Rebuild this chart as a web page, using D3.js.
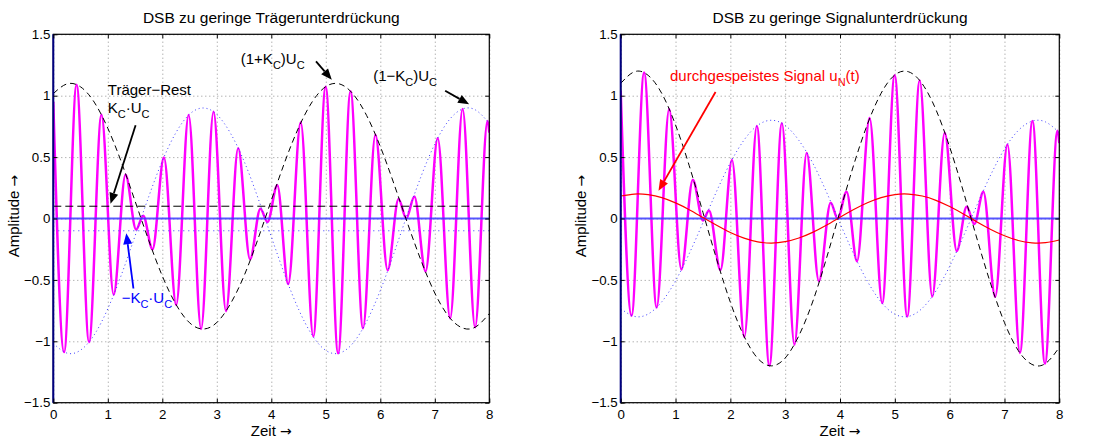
<!DOCTYPE html>
<html>
<head>
<meta charset="utf-8">
<script src="https://cdn.jsdelivr.net/npm/d3@7"></script>
<style>
    body { margin: 0; background: #fff; }
    svg { font-family: "Liberation Sans", Arial, sans-serif; }
</style>
</head>
<body>
<script>
// ticks
var xTicks = [0, 1, 2, 3, 4, 5, 6, 7, 8];
var xTickLabels = ['0', '1', '2', '3', '4', '5', '6', '7', '8'];
var yTicks = [-1.5, -1, -0.5, 0, 0.5, 1, 1.5];
var yTickLabels = ['\u22121.5', '\u22121', '\u22120.5', '0', '0.5', '1', '1.5'];

// time grid of the envelope curves
var tEnv = [0, 0.25, 0.5, 0.75, 1, 1.25, 1.5, 1.75, 2, 2.25, 2.5, 2.75, 3, 3.25, 3.5, 3.75, 4,
    4.25, 4.5, 4.75, 5, 5.25, 5.5, 5.75, 6, 6.25, 6.5, 6.75, 7, 7.25, 7.5, 7.75, 8];

// left: DSB with carrier residue
var leftUpper = [1.017, 1.096, 1.072, 0.948, 0.735, 0.458, 0.142, -0.177, -0.468, -0.699, -0.849,
    -0.900, -0.847, -0.695, -0.467, -0.174, 0.148, 0.463, 0.739, 0.950, 1.074, 1.096, 1.014, 0.838,
    0.586, 0.283, -0.039, -0.345, -0.607, -0.795, -0.890, -0.883, -0.774];
var leftLower = [-1.017, -1.096, -1.072, -0.948, -0.735, -0.458, -0.142, 0.177, 0.468, 0.699, 0.849,
    0.900, 0.847, 0.695, 0.467, 0.174, -0.148, -0.463, -0.739, -0.950, -1.074, -1.096, -1.014, -0.838,
    -0.586, -0.283, 0.039, 0.345, 0.607, 0.795, 0.890, 0.883, 0.774];
var leftSigT = [0, 0.198, 0.427, 0.656, 0.884, 1.107, 1.325, 1.52, 1.65, 1.82, 2.03, 2.255, 2.483,
    2.712, 2.94, 3.169, 3.392, 3.61, 3.80, 3.93, 4.11, 4.31, 4.54, 4.77, 4.997, 5.226, 5.454, 5.683,
    5.91, 6.135, 6.335, 6.476, 6.625, 6.83, 7.054, 7.282, 7.51, 7.739, 7.967, 8];
var leftSigV = [0.95, -1.088, 1.090, -1.006, 0.844, -0.62, 0.357, -0.090, 0.023, -0.251, 0.496,
    -0.704, 0.843, -0.899, 0.870, -0.755, 0.572, -0.332, 0.080, -0.029, 0.270, -0.534, 0.783, -0.961,
    1.073, -1.098, 1.037, -0.894, 0.682, -0.421, 0.158, 0.000, 0.180, -0.431, 0.654, -0.813, 0.892,
    -0.886, 0.794, 0.70];
var leftResidue = [0.1, -0.1];

// right: DSB with signal feed-through
var rightUpper = [1.100, 1.195, 1.166, 1.018, 0.762, 0.430, 0.050, -0.332, -0.682, -0.959, -1.139,
    -1.200, -1.136, -0.954, -0.680, -0.329, 0.058, 0.436, 0.767, 1.020, 1.169, 1.195, 1.097, 0.886,
    0.583, 0.220, -0.167, -0.534, -0.848, -1.074, -1.188, -1.180, -1.049];
var rightLower = [-0.734, -0.797, -0.778, -0.678, -0.508, -0.286, -0.034, 0.222, 0.454, 0.639, 0.759,
    0.800, 0.758, 0.636, 0.454, 0.219, -0.038, -0.290, -0.511, -0.680, -0.779, -0.797, -0.731, -0.590,
    -0.389, -0.146, 0.111, 0.356, 0.566, 0.716, 0.792, 0.786, 0.699];
var rightFeed = [0.183, 0.199, 0.194, 0.170, 0.127, 0.072, 0.008, -0.055, -0.114, -0.160, -0.190,
    -0.200, -0.189, -0.159, -0.113, -0.055, 0.010, 0.073, 0.128, 0.170, 0.195, 0.199, 0.183, 0.148,
    0.097, 0.037, -0.028, -0.089, -0.141, -0.179, -0.198, -0.197, -0.175];
var rightSigT = [0, 0.198, 0.427, 0.656, 0.884, 1.107, 1.315, 1.50, 1.61, 1.82, 2.03, 2.255, 2.483,
    2.712, 2.94, 3.169, 3.392, 3.615, 3.83, 3.958, 4.12, 4.31, 4.54, 4.77, 4.997, 5.226, 5.454, 5.683,
    5.91, 6.13, 6.31, 6.45, 6.615, 6.83, 7.054, 7.282, 7.51, 7.739, 7.967, 8];
var rightSigV = [1.04, -0.791, 1.188, -0.725, 0.892, -0.415, 0.316, -0.016, 0.065, -0.419, 0.476,
    -0.965, 0.754, -1.199, 0.776, -1.026, 0.534, -0.51, 0.128, -0.002, 0.218, -0.348, 0.819, -0.689,
    1.167, -0.798, 1.124, -0.636, 0.699, -0.265, 0.096, -0.045, 0.218, -0.637, 0.603, -1.095, 0.794,
    -1.183, 0.715, 0.614];

(function() {
    var W = 1096,
        H = 439,
        yTop = 34.3,
        yBot = 402.7;

    var svg = d3.select('body')
        .append('svg')
        .attr('width', W)
        .attr('height', H);

    var defs = svg.append('defs');

    // text with TeX-like subscripts: parts = [[text, isSub], ...]
    function richText(g, x, y, parts, color) {
        var t = g.append('text')
            .attr('x', x)
            .attr('y', y)
            .attr('fill', color || '#000')
            .attr('font-size', 15);
        var cur = 0;
        parts.forEach(function(p) {
            var target = p[1] ? 5 : 0;
            t.append('tspan')
                .attr('dy', target - cur)
                .attr('font-size', p[1] ? 11 : 15)
                .text(p[0]);
            cur = target;
        });
        return t;
    }

    // label followed by a wide arrow glyph
    function arrowLabel(sel, label) {
        sel.append('tspan').text(label + ' ');
        sel.append('tspan')
            .attr('font-family', '"DejaVu Sans", sans-serif')
            .attr('font-size', 14)
            .text('\u2192');
        return sel;
    }

    function arrow(g, x1, y1, x2, y2, color) {
        var a = Math.atan2(y2 - y1, x2 - x1),
            len = 11,
            half = 4.5;
        var bx = x2 - len * Math.cos(a),
            by = y2 - len * Math.sin(a);
        g.append('line')
            .attr('x1', x1).attr('y1', y1)
            .attr('x2', bx).attr('y2', by)
            .attr('stroke', color)
            .attr('stroke-width', 1.8);
        g.append('path')
            .attr('d', 'M' + x2 + ',' + y2 +
                'L' + (bx + half * Math.sin(a)) + ',' + (by - half * Math.cos(a)) +
                'L' + (bx - half * Math.sin(a)) + ',' + (by + half * Math.cos(a)) + 'Z')
            .attr('fill', color);
    }

    function panel(p) {
        var x = d3.scaleLinear().domain([0, 8]).range([p.x0, p.x1]);
        var y = d3.scaleLinear().domain([-1.5, 1.5]).range([yBot, yTop]);
        var w = p.x1 - p.x0,
            h = yBot - yTop;
        var g = svg.append('g');

        // grid
        var gx = g.append('g')
            .attr('transform', 'translate(0,' + yBot + ')')
            .call(d3.axisBottom(x).tickValues(xTicks).tickSize(-h).tickFormat(''));
        var gy = g.append('g')
            .attr('transform', 'translate(' + p.x0 + ',0)')
            .call(d3.axisLeft(y).tickValues(yTicks).tickSize(-w).tickFormat(''));
        [gx, gy].forEach(function(s) {
            s.select('.domain').remove();
            s.selectAll('line')
                .attr('stroke', '#777')
                .attr('stroke-width', 0.8)
                .attr('stroke-dasharray', '1,3');
        });

        var clipId = 'clip' + p.id;
        defs.append('clipPath').attr('id', clipId)
            .append('rect')
            .attr('x', p.x0).attr('y', yTop)
            .attr('width', w).attr('height', h);
        var plot = g.append('g').attr('clip-path', 'url(#' + clipId + ')');

        var env = d3.line()
            .x(function(d, i) { return x(tEnv[i]); })
            .y(function(d) { return y(d); })
            .curve(d3.curveNatural);
        var sig = d3.line()
            .x(function(d) { return x(d[0]); })
            .y(function(d) { return y(d[1]); })
            .curve(d3.curveMonotoneX);

        plot.append('path')
            .datum(d3.zip(p.sigT, p.sigV))
            .attr('d', sig)
            .attr('fill', 'none')
            .attr('stroke', '#ff00ff')
            .attr('stroke-width', 2.5);

        // zero line
        plot.append('line')
            .attr('x1', p.x0).attr('x2', p.x1)
            .attr('y1', y(0)).attr('y2', y(0))
            .attr('stroke', '#3a3aff')
            .attr('stroke-opacity', 0.85)
            .attr('stroke-width', 2);

        if (p.residue) {
            plot.append('line')
                .attr('x1', p.x0).attr('x2', p.x1)
                .attr('y1', y(p.residue[0])).attr('y2', y(p.residue[0]))
                .attr('stroke', '#000')
                .attr('stroke-width', 1)
                .attr('stroke-dasharray', '8,4');
            plot.append('line')
                .attr('x1', p.x0).attr('x2', p.x1)
                .attr('y1', y(p.residue[1])).attr('y2', y(p.residue[1]))
                .attr('stroke', '#3a3aff')
                .attr('stroke-width', 1)
                .attr('stroke-dasharray', '1,4');
        }
        if (p.feed) {
            plot.append('path')
                .datum(p.feed)
                .attr('d', env)
                .attr('fill', 'none')
                .attr('stroke', '#ff0000')
                .attr('stroke-width', 1.2);
        }
        plot.append('path')
            .datum(p.upper)
            .attr('d', env)
            .attr('fill', 'none')
            .attr('stroke', '#000')
            .attr('stroke-width', 1)
            .attr('stroke-dasharray', '6,4');
        plot.append('path')
            .datum(p.lower)
            .attr('d', env)
            .attr('fill', 'none')
            .attr('stroke', '#3a3aff')
            .attr('stroke-width', 1)
            .attr('stroke-dasharray', '1,3');

        // box and inward ticks
        g.append('rect')
            .attr('x', p.x0).attr('y', yTop)
            .attr('width', w).attr('height', h)
            .attr('fill', 'none')
            .attr('stroke', '#000')
            .attr('stroke-width', 1.2);
        g.append('line')
            .attr('x1', p.x0).attr('x2', p.x0)
            .attr('y1', yTop).attr('y2', yBot)
            .attr('stroke', '#000080')
            .attr('stroke-width', 2);

        var axes = [
            g.append('g').attr('transform', 'translate(0,' + yBot + ')')
                .call(d3.axisBottom(x).tickValues(xTicks).tickSizeInner(-4).tickSizeOuter(0)
                    .tickPadding(7).tickFormat(function(d, i) { return xTickLabels[i]; })),
            g.append('g').attr('transform', 'translate(0,' + yTop + ')')
                .call(d3.axisTop(x).tickValues(xTicks).tickSizeInner(-4).tickSizeOuter(0).tickFormat('')),
            g.append('g').attr('transform', 'translate(' + p.x0 + ',0)')
                .call(d3.axisLeft(y).tickValues(yTicks).tickSizeInner(-4).tickSizeOuter(0)
                    .tickPadding(3).tickFormat(function(d, i) { return yTickLabels[i]; })),
            g.append('g').attr('transform', 'translate(' + p.x1 + ',0)')
                .call(d3.axisRight(y).tickValues(yTicks).tickSizeInner(-4).tickSizeOuter(0).tickFormat(''))
        ];
        axes.forEach(function(a) {
            a.select('.domain').remove();
            a.attr('font-size', 13.3).attr('font-family', null);
            a.selectAll('line').attr('stroke', '#000');
            a.selectAll('text').attr('fill', '#000');
        });

        // titles
        g.append('text')
            .attr('x', (p.x0 + p.x1) / 2)
            .attr('y', 23.3)
            .attr('text-anchor', 'middle')
            .attr('font-size', 15.5)
            .text(p.title);
        arrowLabel(g.append('text')
            .attr('x', (p.x0 + p.x1) / 2)
            .attr('y', 436)
            .attr('text-anchor', 'middle')
            .attr('font-size', 15), 'Zeit');
        arrowLabel(g.append('text')
            .attr('transform', 'translate(' + (p.x0 - 34.5) + ',' + 216 + ') rotate(-90)')
            .attr('text-anchor', 'middle')
            .attr('font-size', 15), 'Amplitude');

        p.notes.forEach(function(n) {
            richText(g, x(n.at[0]), y(n.at[1]), n.parts, n.color);
        });
        p.arrows.forEach(function(a) {
            arrow(g, x(a.from[0]), y(a.from[1]), x(a.to[0]), y(a.to[1]), a.color);
        });
    }

    panel({
        id: 'L',
        x0: 53.3,
        x1: 489.3,
        title: 'DSB zu geringe Tr\u00e4gerunterdr\u00fcckung',
        sigT: leftSigT,
        sigV: leftSigV,
        upper: leftUpper,
        lower: leftLower,
        residue: leftResidue,
        notes: [
            {at: [1.0, 1.005], parts: [['Tr\u00e4ger\u2212Rest', 0]], color: '#000'},
            {at: [1.0, 0.86], parts: [['K', 0], ['C', 1], ['\u00b7U', 0], ['C', 1]], color: '#000'},
            {at: [3.44, 1.256], parts: [['(1+K', 0], ['C', 1], [')U', 0], ['C', 1]], color: '#000'},
            {at: [5.87, 1.12], parts: [['(1\u2212K', 0], ['C', 1], [')U', 0], ['C', 1]], color: '#000'},
            {at: [1.254, -0.69], parts: [['\u2212K', 0], ['C', 1], ['\u00b7U', 0], ['C', 1]], color: '#0000ff'}
        ],
        arrows: [
            {from: [1.51, 0.76], to: [1.05, 0.12], color: '#000'},
            {from: [4.82, 1.28], to: [5.11, 1.13], color: '#000'},
            {from: [7.19, 1.04], to: [7.63, 0.93], color: '#000'},
            {from: [1.47, -0.57], to: [1.34, -0.12], color: '#0000ff'}
        ]
    });

    panel({
        id: 'R',
        x0: 620.7,
        x1: 1059.3,
        title: 'DSB zu geringe Signalunterdr\u00fcckung',
        sigT: rightSigT,
        sigV: rightSigV,
        upper: rightUpper,
        lower: rightLower,
        feed: rightFeed,
        notes: [
            {at: [0.9, 1.12], parts: [['durchgespeistes Signal u', 0], ['N', 1], ['(t)', 0]], color: '#ff0000'}
        ],
        arrows: [
            {from: [1.73, 1.03], to: [0.69, 0.225], color: '#ff0000'}
        ]
    });
})();
</script>
</body>
</html>
